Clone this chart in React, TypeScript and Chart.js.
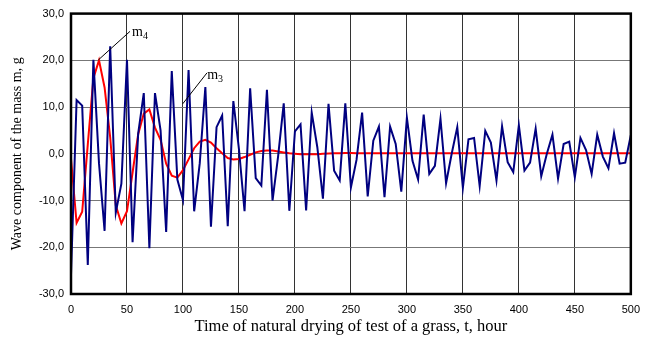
import React, { useEffect, useRef } from "react";
import { Chart, registerables } from "chart.js";

Chart.register(...registerables);

// Time of natural drying, hours
const HOURS = [
  0, 5, 10, 15, 20, 25, 30, 35, 40, 45, 50, 55, 60, 65, 70, 75, 80, 85, 90, 95,
  100, 105, 110, 115, 120, 125, 130, 135, 140, 145, 150, 155, 160, 165, 170, 175, 180, 185, 190, 195,
  200, 205, 210, 215, 220, 225, 230, 235, 240, 245, 250, 255, 260, 265, 270, 275, 280, 285, 290, 295,
  300, 305, 310, 315, 320, 325, 330, 335, 340, 345, 350, 355, 360, 365, 370, 375, 380, 385, 390, 395,
  400, 405, 410, 415, 420, 425, 430, 435, 440, 445, 450, 455, 460, 465, 470, 475, 480, 485, 490, 495,
  500,
];

// m3 (blue) wave component
const M3_VALUES = [
  -26, 11.5, 10.3, -23.8, 20.1, -2, -16.5, 23.0, -12.6, -6.4,
  20.1, -18.9, 4.3, 13.0, -20.2, 13.0, 5, -16.7, 17.7, -5.5,
  -9.9, 17.9, -12.3, -2, 14.3, -15.6, 5.7, 8.2, -15.5, 11.3,
  1, -12.3, 14.0, -5.2, -6.8, 13.7, -10.0, -0.5, 10.8, -12.2,
  4.8, 6.3, -12.1, 8.8, 1.4, -9.6, 10.7, -3.6, -5.7, 10.8,
  -7.2, -1.3, 8.8, -9.1, 2.8, 5.8, -9.3, 5.8, 2.1, -8.1,
  7.7, -1.5, -5.5, 8.4, -4.3, -2.6, 7.5, -6.3, 0, 5.7,
  -7.3, 3.1, 3.4, -6.9, 4.9, 2.4, -5.7, 5.9, -1.8, -3.9,
  6.1, -3.6, -1.9, 5.4, -4.8, 0, 4.1, -5.3, 2.1, 2.6,
  -5.0, 3.4, 0.8, -4.3, 4.1, -0.6, -3.1, 4.4, -2.1, -1.9,
  4.0,
];

// m4 (red) wave component
const M4_VALUES = [
  -1, -14.8, -12.4, 2, 16.2, 20.0, 14.2, 3.5, -11, -14.9,
  -12.3, -4, 4.2, 8.6, 9.5, 5.6, 3.0, -2.1, -4.7, -5.1,
  -3.5, -1.2, 1.2, 2.6, 3.0, 2.4, 1.2, 0.1, -0.9, -1.2,
  -1.1, -0.7, -0.2, 0.3, 0.6, 0.7, 0.7, 0.5, 0.3, 0.1,
  0, -0.1, -0.1, -0.1, -0.1, 0, 0.05, 0.1, 0.1, 0.15,
  0.15, 0.1, 0.1, 0.1, 0.1, 0.1, 0.1, 0.1, 0.1, 0.1,
  0.1, 0.1, 0.1, 0.1, 0.1, 0.1, 0.1, 0.1, 0.1, 0.1,
  0.1, 0.1, 0.1, 0.1, 0.1, 0.1, 0.1, 0.1, 0.1, 0.1,
  0.1, 0.1, 0.1, 0.1, 0.1, 0.1, 0.1, 0.1, 0.1, 0.1,
  0.1, 0.1, 0.1, 0.1, 0.1, 0.1, 0.1, 0.1, 0.1, 0.1,
  0.1,
];

const X_TITLE = "Time of natural drying of test of a grass, t, hour";
const Y_TITLE = "Wave component of the mass m, g";

// Leader-line labels
const LABELS = [
  { main: "m", sub: "4", from: [24.5, 20.1], to: [52.7, 26.2], text: [54.5, 25.1] },
  { main: "m", sub: "3", from: [99.8, 10.7], to: [121.4, 17.3], text: [121.6, 16.0] },
];

const decorPlugin = {
  id: "decor",
  afterDraw(chart: any) {
    const { ctx, chartArea } = chart;
    const xs = chart.scales.x;
    const ys = chart.scales.y;
    ctx.save();
    ctx.strokeStyle = "#000";
    ctx.lineWidth = 2.5;
    ctx.strokeRect(
      chartArea.left,
      chartArea.top,
      chartArea.right - chartArea.left,
      chartArea.bottom - chartArea.top
    );
    for (const l of LABELS) {
      ctx.lineWidth = 1;
      ctx.strokeStyle = "#000";
      ctx.beginPath();
      ctx.moveTo(xs.getPixelForValue(l.from[0]), ys.getPixelForValue(l.from[1]));
      ctx.lineTo(xs.getPixelForValue(l.to[0]), ys.getPixelForValue(l.to[1]));
      ctx.stroke();
      const tx = xs.getPixelForValue(l.text[0]);
      const ty = ys.getPixelForValue(l.text[1]);
      ctx.fillStyle = "#000";
      ctx.textBaseline = "alphabetic";
      ctx.textAlign = "left";
      ctx.font = "14px 'Liberation Serif'";
      ctx.fillText(l.main, tx, ty);
      const w = ctx.measureText(l.main).width;
      ctx.font = "10px 'Liberation Serif'";
      ctx.fillText(l.sub, tx + w, ty + 3);
    }
    ctx.restore();
  },
};

export default function App() {
  const ref = useRef<HTMLCanvasElement | null>(null);

  useEffect(() => {
    if (!ref.current) return;
    const chart = new Chart(ref.current, {
      type: "line",
      data: {
        datasets: [
          {
            label: "m3",
            data: HOURS.map((h, i) => ({ x: h, y: M3_VALUES[i] })),
            borderColor: "#000080",
            borderWidth: 2,
            pointRadius: 0,
            tension: 0,
            fill: false,
          },
          {
            label: "m4",
            data: HOURS.map((h, i) => ({ x: h, y: M4_VALUES[i] })),
            borderColor: "#FF0000",
            borderWidth: 2,
            pointRadius: 0,
            tension: 0,
            fill: false,
          },
        ],
      },
      options: {
        animation: false,
        responsive: false,
        devicePixelRatio: 1,
        layout: { padding: { left: 0, top: 11, right: 15, bottom: 0 } },
        plugins: {
          legend: { display: false },
          tooltip: { enabled: false },
        },
        scales: {
          x: {
            type: "linear",
            min: 0,
            max: 500,
            ticks: {
              stepSize: 50,
              color: "#000",
              padding: 9,
              font: { family: "'Liberation Sans'", size: 11 },
            },
            grid: { color: "#333", drawTicks: false, lineWidth: 1 },
            border: { display: false },
            title: {
              display: true,
              text: X_TITLE,
              color: "#000",
              font: { family: "'Liberation Serif'", size: 16.5 },
              padding: { top: 0, bottom: 1 },
            },
            afterFit: (s: any) => {
              s.height = 44;
            },
          },
          y: {
            type: "linear",
            min: -30,
            max: 30,
            ticks: {
              stepSize: 10,
              color: "#000",
              padding: 7,
              font: { family: "'Liberation Sans'", size: 11 },
              callback: (v: any) => Number(v).toFixed(1).replace(".", ","),
            },
            grid: { color: "#777", drawTicks: false, lineWidth: 1 },
            border: { display: false },
            title: {
              display: true,
              text: Y_TITLE,
              color: "#000",
              font: { family: "'Liberation Serif'", size: 14 },
              padding: { top: 9, bottom: 0 },
            },
            afterFit: (s: any) => {
              s.width = 71;
            },
          },
        },
      },
      plugins: [decorPlugin],
    });
    return () => chart.destroy();
  }, []);

  return (
    <div style={{ position: "absolute", left: 0, top: 0, width: 649, height: 338, background: "#fff" }}>
      <canvas ref={ref} width={649} height={338} />
    </div>
  );
}
